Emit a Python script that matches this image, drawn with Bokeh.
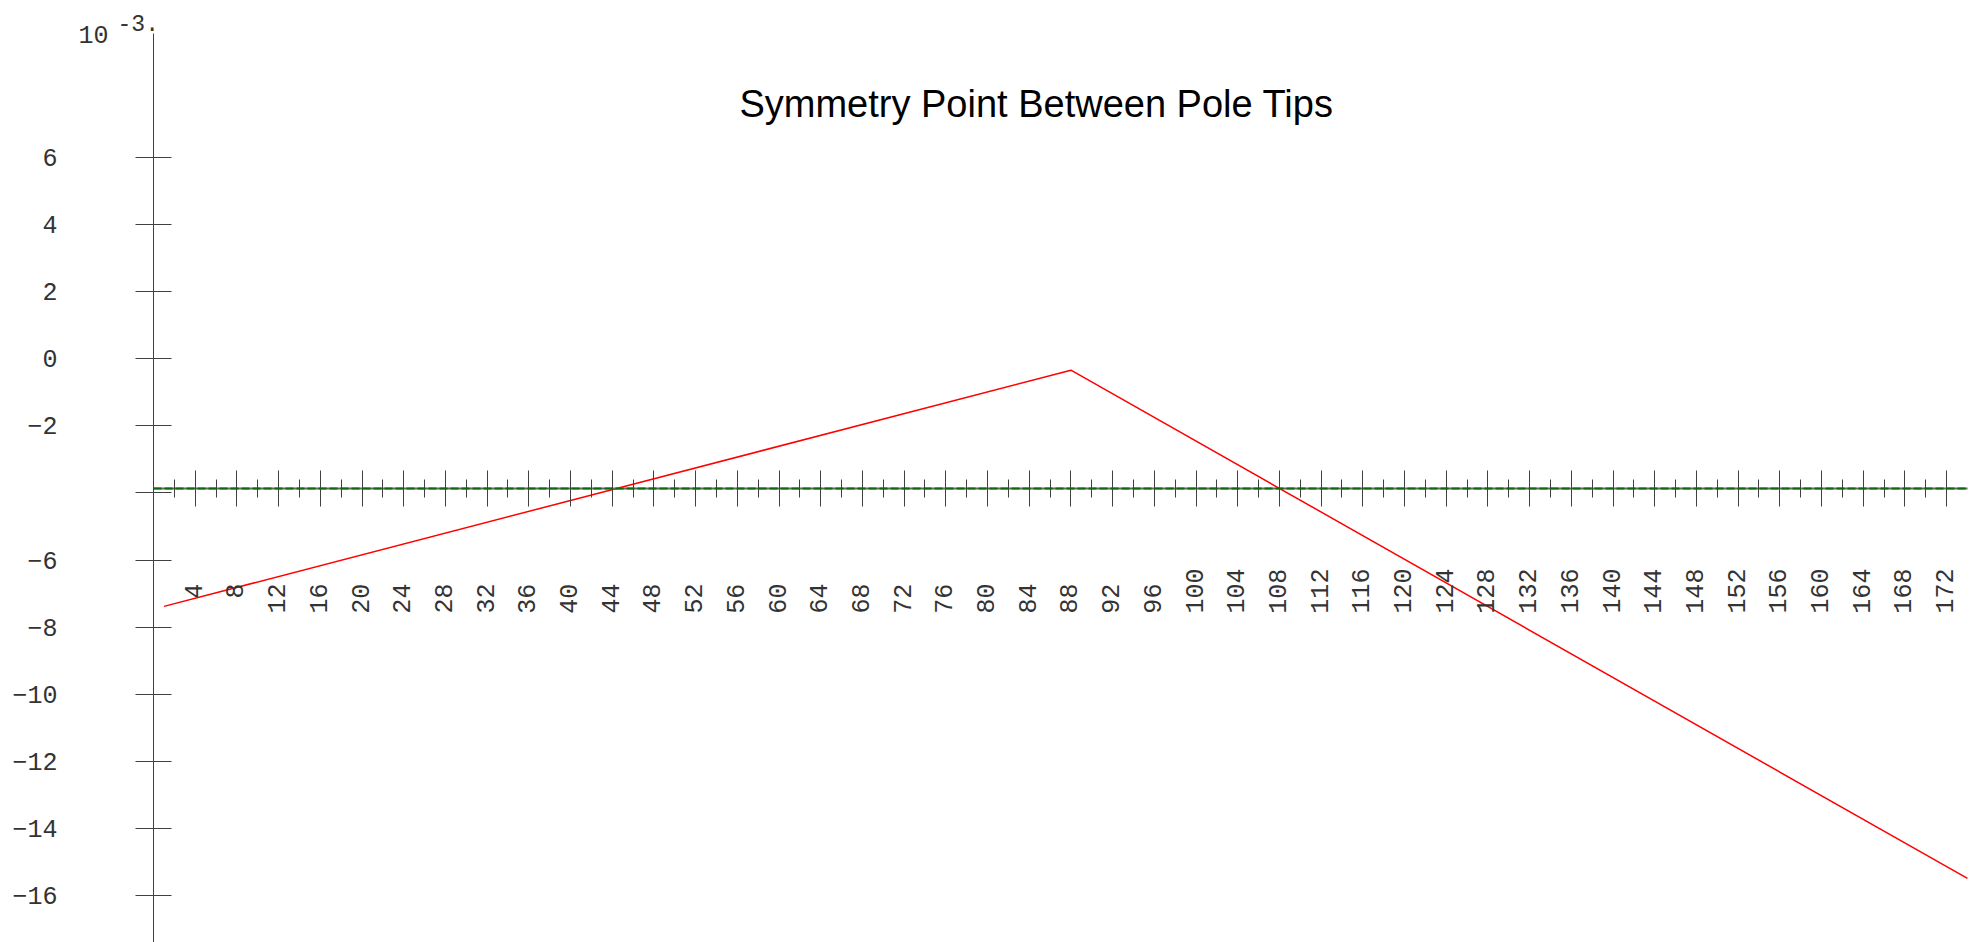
import math
from bokeh.plotting import figure
from bokeh.models import Range1d, LinearAxis, FixedTicker, Label
from bokeh.embed import file_html
from bokeh.resources import INLINE

# ---- data (y in units of 1e-3) ----
pos_x = [1, 88, 174]
sym_y = [-7.38, -0.34, -15.49]
x_axis_level = -3.87
x_axis_span = [0, 174]
x_major_ticks = list(range(4, 173, 4))
x_minor_ticks = list(range(2, 171, 4))
x_tick_labels = [str(t) for t in x_major_ticks]
y_ticks = [-16, -14, -12, -10, -8, -6, -4, -2, 0, 2, 4, 6]
y_hidden_labels = [-4]
y_axis_span = [-17.40, 9.70]
title_text = "Symmetry Point Between Pole Tips"
scale_base = "10"
scale_exp = "-3."

NB = "\u00a0"


def pad_label(s):
    # right-justify to width 2, then left-justify to width 3 (monospace layout)
    s = s.rjust(2, NB)
    return s.ljust(3, NB)


W, H = 1975, 942
p = figure(width=W, height=H, output_backend="svg", toolbar_location=None,
           x_axis_type=None, y_axis_type=None,
           x_range=Range1d(-14.68, 174.77), y_range=Range1d(-17.40, 10.68),
           min_border_left=0, min_border_top=0, min_border_right=0, min_border_bottom=0)
p.outline_line_color = None
p.grid.visible = False
p.background_fill_color = "white"
p.border_fill_color = "white"

tick_font = "Liberation Mono"
tick_size = "25px"
axis_col = "#404040"
label_col = "#333333"

# y axis at x = 0
ya = LinearAxis(ticker=FixedTicker(ticks=y_ticks, minor_ticks=[]),
                fixed_location=0, bounds=tuple(y_axis_span))
ya.axis_line_color = axis_col
ya.major_tick_line_color = axis_col
ya.major_tick_in = 18
ya.major_tick_out = 18
ya.minor_tick_line_color = None
ya.major_label_standoff = 78
ya.major_label_text_font = tick_font
ya.major_label_text_font_size = tick_size
ya.major_label_text_color = label_col
ya.major_label_overrides = {v: "" for v in y_hidden_labels}
p.add_layout(ya, "left")

# x axis placed at fixed data level
xa = LinearAxis(ticker=FixedTicker(ticks=x_major_ticks, minor_ticks=x_minor_ticks),
                fixed_location=x_axis_level, bounds=tuple(x_axis_span))
xa.axis_line_color = "#666666"
xa.axis_line_width = 2
xa.major_tick_line_color = axis_col
xa.major_tick_in = 18
xa.major_tick_out = 18
xa.minor_tick_line_color = axis_col
xa.minor_tick_in = 9
xa.minor_tick_out = 9
xa.major_label_orientation = math.pi / 2
xa.major_label_standoff = 62
xa.major_label_text_font = tick_font
xa.major_label_text_font_size = tick_size
xa.major_label_text_color = label_col
xa.major_label_overrides = {t: pad_label(s) for t, s in zip(x_major_ticks, x_tick_labels)}
p.add_layout(xa, "below")

# green dashed overlay on the horizontal axis line
g = p.line(x_axis_span, [x_axis_level, x_axis_level], line_color="#0b6b0b",
           line_width=2, line_dash="8 3")
g.level = "annotation"

p.line(pos_x, sym_y, line_color="red", line_width=1.5)

p.add_layout(Label(x=84.7, y=7.58, text=title_text, text_font="Liberation Sans",
                   text_font_size="38px", text_color="black", text_align="center",
                   text_baseline="alphabetic"))
p.add_layout(Label(x=-7.19, y=9.67, text=scale_base, text_font=tick_font,
                   text_font_size="25px", text_color=label_col, text_align="left",
                   text_baseline="alphabetic"))
p.add_layout(Label(x=-3.45, y=10.02, text=scale_exp, text_font=tick_font,
                   text_font_size="23px", text_color=label_col, text_align="left",
                   text_baseline="alphabetic"))

open("out.html", "w").write(file_html(p, INLINE))
